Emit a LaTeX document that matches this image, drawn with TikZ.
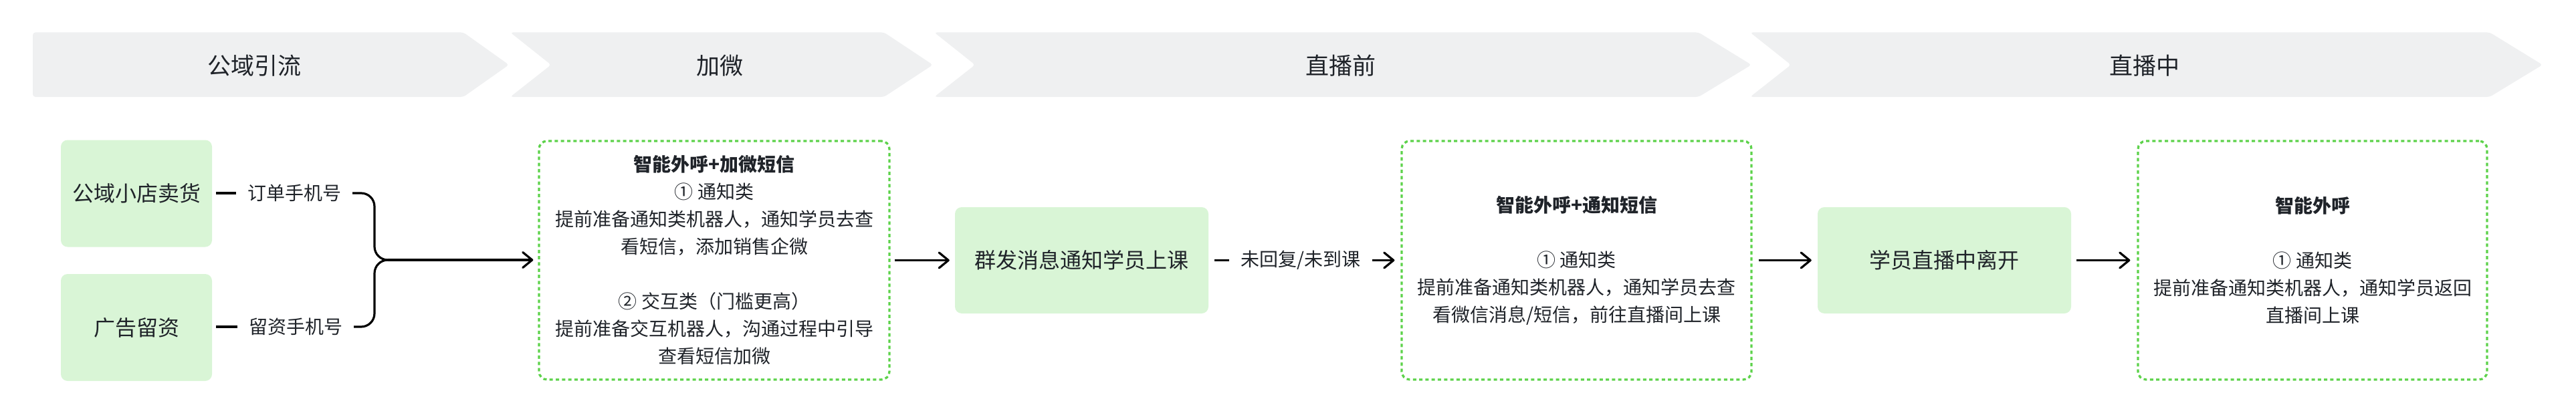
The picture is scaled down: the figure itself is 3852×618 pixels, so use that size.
\documentclass[tikz,border=0pt]{standalone}
\usepackage{fontspec}
\setmainfont{Noto Sans CJK SC}
\usetikzlibrary{arrows.meta}
\definecolor{phasegray}{HTML}{EFF0F1}
\definecolor{boxgreen}{HTML}{D9F5D6}
\definecolor{dashgreen}{HTML}{5DD24B}
\definecolor{txt}{HTML}{1F2329}
\tikzset{
  phase/.style={fill=phasegray, rounded corners=4pt},
  phasetext/.style={text=txt, font=\fontsize{35}{42}\selectfont, inner sep=0pt},
  greenbox/.style={fill=boxgreen, rounded corners=10pt, minimum width=226pt, minimum height=160pt,
    text=txt, font=\fontsize{32}{40}\selectfont, inner sep=0pt},
  dbox/.style={draw=dashgreen, line width=3.3pt, dash pattern=on 5pt off 4.3pt, rounded corners=12pt,
    minimum width=524pt, minimum height=357pt, text=txt, align=center,
    font=\fontsize{28}{41}\selectfont, inner sep=0pt},
  lbl/.style={text=txt, font=\fontsize{28}{34}\selectfont, inner xsep=17pt, inner ysep=0pt},
  conn/.style={draw=black, line width=3.2pt},
  arr/.style={conn, -{Straight Barb[length=14pt, width=23pt, round]}},
}
\begin{document}
\begin{tikzpicture}[x=1pt, y=-1pt]
\useasboundingbox (0,0) rectangle (3852,618);

% phase chevrons
\fill[phase] (49,48.5) -- (693,48.5) -- (761,97) -- (693,145) -- (49,145) -- cycle;
\fill[phase] (763,48.5) -- (1322,48.5) -- (1395,97) -- (1322,145) -- (763,145) -- (824,97) -- cycle;
\fill[phase] (1397,48.5) -- (2540,48.5) -- (2619,97) -- (2540,145) -- (1397,145) -- (1458,97) -- cycle;
\fill[phase] (2617,48.5) -- (3723,48.5) -- (3802,97) -- (3723,145) -- (2617,145) -- (2678,97) -- cycle;
\node[phasetext] (ph1) at (380,98) {公域引流};
\node[phasetext] (ph2) at (1076,98) {加微};
\node[phasetext] (ph3) at (2005,98) {直播前};
\node[phasetext] (ph4) at (3207,98) {直播中};

% source boxes
\node[greenbox] (shop) at (204,289.5) {公域小店卖货};
\node[greenbox] (ad) at (204,490) {广告留资};

% edge labels
\node[lbl] (l1) at (440,289) {订单手机号};
\node[lbl] (l2) at (442,489) {留资手机号};
\coordinate (j) at (560,389);

% dashed boxes
\node[dbox] (b1) at (1068,389.5) {{\bfseries 智能外呼+加微短信}\\
① 通知类\\
提前准备通知类机器人，通知学员去查\\
看短信，添加销售企微\\[41pt]
② 交互类（门槛更高）\\
提前准备交互机器人，沟通过程中引导\\
查看短信加微};

\node[greenbox, minimum width=379pt, minimum height=159pt] (qunfa) at (1617.5,389.5) {群发消息通知学员上课};
\node[lbl] (l3) at (1945,389.5) {未回复/未到课};

\node[dbox, minimum width=523pt] (b2) at (2357.5,389.5) {{\bfseries 智能外呼+通知短信}\\[41pt]
① 通知类\\
提前准备通知类机器人，通知学员去查\\
看微信消息/短信，前往直播间上课};

\node[greenbox, minimum width=379pt, minimum height=159pt] (leave) at (2907.5,389.5) {学员直播中离开};

\node[dbox, minimum width=522pt] (b3) at (3458,389.5) {{\bfseries 智能外呼}\\[41pt]
① 通知类\\
提前准备通知类机器人，通知学员返回\\
直播间上课};

% connectors
\draw[conn, shorten <=6pt] (shop.east |- l1) -- (l1.west);
\draw[conn, shorten <=6pt] (ad.east |- l2) -- (l2.west);
\draw[conn, rounded corners=20pt] (l1.east) -| (j) -- ([xshift=40pt]j);
\draw[conn, rounded corners=20pt] (l2.east) -| (j) -- ([xshift=40pt]j);
\draw[arr, shorten >=7pt] ([xshift=20pt]j) -- (b1.west |- j);

\draw[arr, shorten <=6pt, shorten >=8pt] (b1.east) -- (qunfa.west);
\draw[conn, shorten <=9pt] (qunfa.east) -- (l3.west);
\draw[arr, shorten >=9pt] (l3.east) -- (b2.west);
\draw[arr, shorten <=9pt, shorten >=9pt] (b2.east) -- (leave.west);
\draw[arr, shorten <=8pt, shorten >=10pt] (leave.east) -- (b3.west);
\end{tikzpicture}
\end{document}
